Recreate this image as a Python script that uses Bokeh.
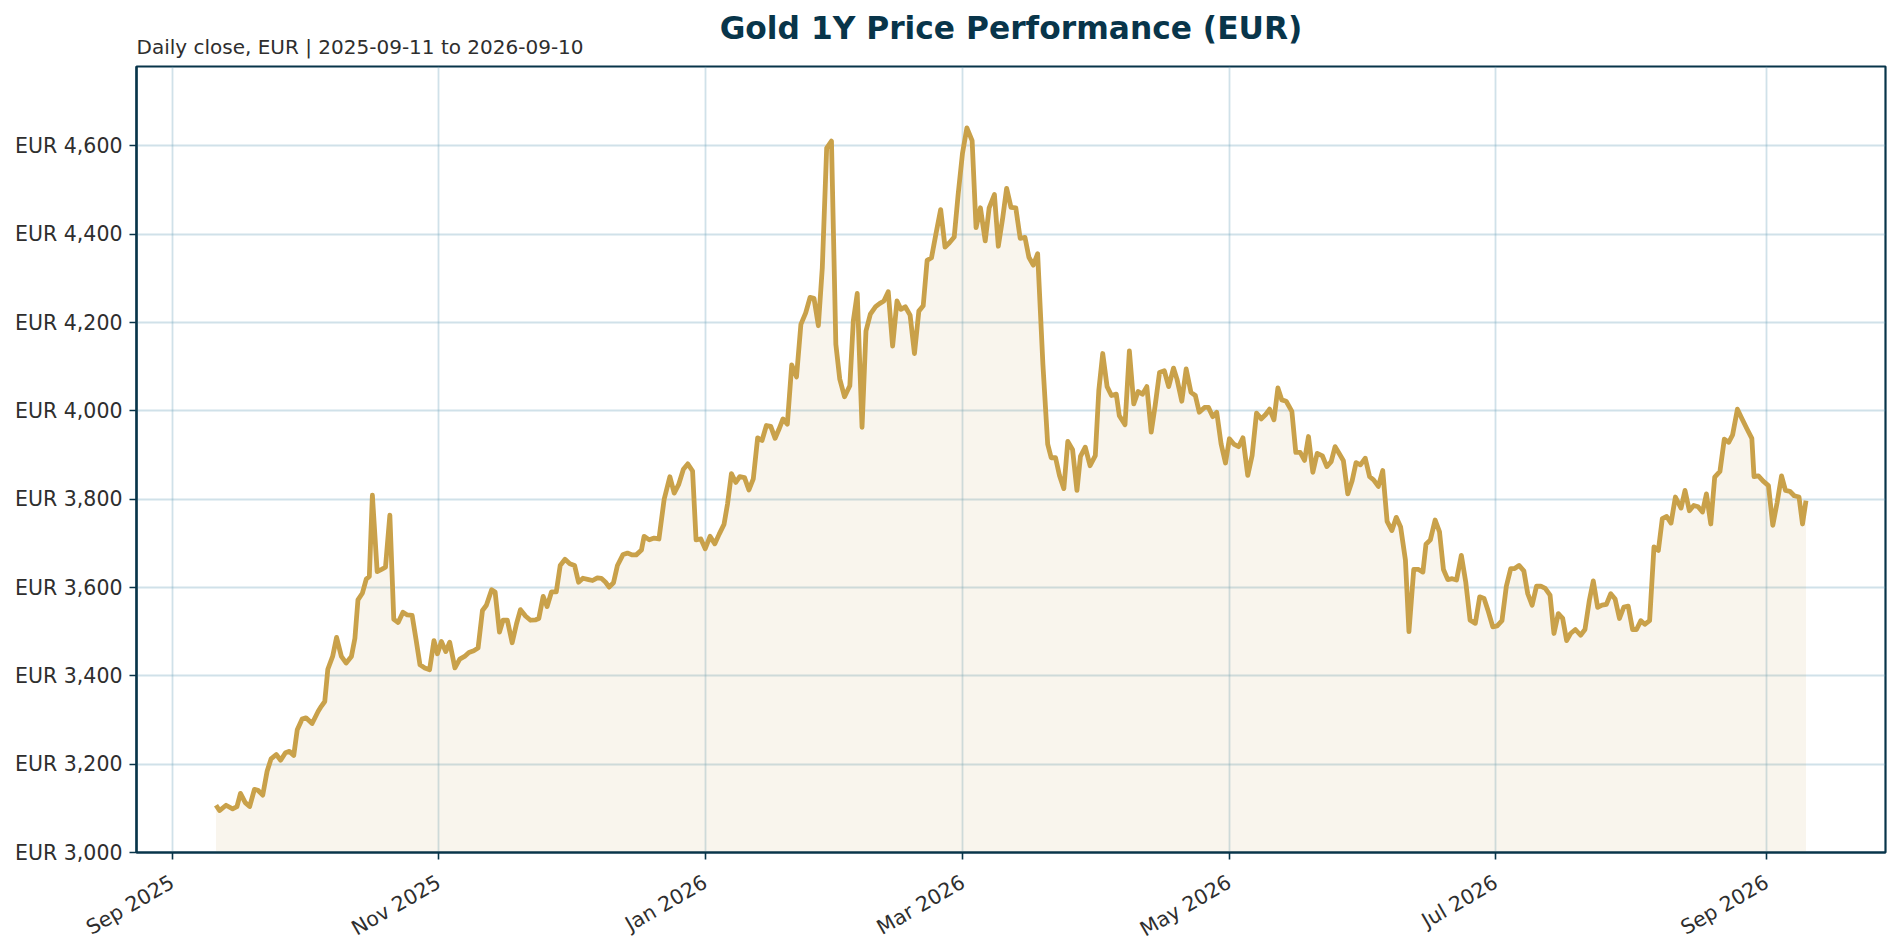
import pandas as pd
from bokeh.plotting import figure
from bokeh.models import Range1d, FixedTicker, DatetimeTickFormatter, Title, ColumnDataSource
from bokeh.embed import file_html
from bokeh.resources import INLINE

# ---------------- data ----------------
base_date = "2025-09-01"
day_offsets = [
    10.0, 10.8, 12.3, 13.8, 14.8, 15.6, 16.7, 17.7, 18.8, 19.6, 20.7, 21.7, 22.6, 23.8, 24.8,
    25.9, 26.8, 27.8, 28.6, 29.7, 30.6, 32.0, 33.4, 34.1, 34.9, 35.6, 36.7, 37.6, 38.7, 39.8,
    41.0, 41.8, 42.5, 43.5, 44.4, 45.1, 45.8, 46.9, 47.9, 48.8, 49.8, 50.7, 51.7, 52.8, 53.8,
    54.9, 55.8, 56.7, 57.8, 58.9, 59.9, 60.7, 61.6, 62.6, 63.5, 64.7, 65.8, 66.9, 67.9, 69.0,
    70.0, 71.0, 71.9, 73.1, 73.9, 74.9, 75.7, 76.7, 77.8, 78.8, 79.7, 80.9, 82.0, 83.2, 83.9,
    84.9, 85.8, 86.8, 87.9, 88.8, 89.9, 91.0, 92.1, 93.0, 94.0, 95.3, 96.2, 97.3, 98.2, 99.2,
    100.0, 101.0, 101.9, 103.2, 104.2, 105.3, 106.2, 107.4, 108.0, 109.2, 110.3, 111.4, 112.6,
    113.9, 114.9, 115.9, 117.0, 118.0, 119.1, 119.9, 121.0, 122.0, 123.1, 124.2, 125.2, 126.3,
    127.1, 128.0, 129.0, 129.9, 131.0, 132.0, 133.0, 134.0, 135.0, 136.0, 137.0, 138.0, 138.9,
    139.8, 140.8, 141.8, 142.9, 143.9, 145.0, 146.0, 146.9, 147.9, 148.8, 149.8, 150.9, 151.9,
    152.8, 153.9, 155.1, 155.9, 156.8, 157.9, 158.8, 159.8, 161.0, 161.9, 162.9, 163.9, 164.9,
    165.9, 166.8, 167.8, 168.9, 169.9, 170.9, 171.9, 172.8, 173.8, 174.8, 175.9, 176.9, 177.9,
    179.0, 179.9, 180.9, 181.9, 183.1, 184.0, 185.0, 186.1, 187.0, 188.2, 189.1, 190.1, 191.0,
    192.0, 193.1, 194.1, 195.2, 196.1, 197.1, 198.1, 199.3, 200.4, 201.2, 202.2, 203.1, 204.1,
    205.0, 206.1, 207.1, 207.9, 209.0, 210.1, 211.3, 212.1, 213.0, 214.0, 215.0, 216.1, 216.8,
    218.1, 219.1, 220.1, 221.1, 222.1, 223.1, 224.1, 225.0, 226.0, 227.1, 228.1, 229.2, 230.0,
    231.1, 232.1, 233.2, 234.2, 235.1, 236.3, 237.2, 238.2, 239.1, 240.1, 241.1, 242.0, 243.0,
    244.1, 245.1, 246.2, 247.2, 248.2, 249.3, 250.3, 251.2, 252.2, 253.1, 254.0, 255.0, 256.3,
    257.2, 258.2, 259.2, 260.1, 261.1, 262.1, 263.3, 264.3, 265.3, 266.2, 267.1, 268.1, 269.1,
    270.1, 271.0, 272.0, 273.1, 274.1, 275.0, 276.1, 277.1, 278.1, 279.2, 280.2, 281.2, 282.3,
    283.1, 284.2, 285.3, 286.3, 287.0, 288.0, 289.1, 290.1, 291.0, 292.0, 293.0, 294.0, 295.1,
    296.1, 297.1, 298.3, 299.3, 300.3, 301.3, 302.3, 303.3, 304.4, 305.4, 306.4, 307.3, 308.3,
    309.4, 310.3, 311.3, 312.3, 313.3, 314.3, 315.4, 316.3, 317.3, 318.3, 319.2, 320.1, 321.2,
    322.4, 323.4, 324.4, 325.3, 326.3, 327.3, 328.3, 329.3, 330.3, 331.3, 332.3, 333.3, 334.3,
    335.2, 336.2, 337.1, 338.2, 339.2, 340.2, 341.1, 342.1, 343.1, 344.1, 345.4, 346.3, 347.3,
    348.3, 349.3, 350.3, 351.2, 352.2, 353.1, 354.3, 355.3, 356.3, 357.2, 358.3, 359.4, 360.5,
    361.6, 362.1, 363.1, 364.2, 365.4, 366.4, 367.4, 368.4, 369.3, 370.3, 371.3, 372.4, 373.2,
    374.0,
]
prices = [
    3107, 3095, 3107, 3099, 3104, 3134, 3113, 3104, 3143, 3141, 3130, 3184, 3212, 3222, 3209,
    3226, 3229, 3220, 3278, 3302, 3305, 3292, 3320, 3331, 3342, 3415, 3444, 3487, 3444, 3429,
    3444, 3485, 3572, 3587, 3619, 3625, 3809, 3636, 3641, 3646, 3764, 3528, 3521, 3544, 3538,
    3537, 3482, 3425, 3418, 3414, 3480, 3450, 3478, 3455, 3476, 3418, 3438, 3444, 3453, 3457,
    3463, 3548, 3560, 3595, 3590, 3499, 3526, 3526, 3475, 3518, 3550, 3535, 3526, 3527, 3530,
    3580, 3557, 3590, 3590, 3650, 3664, 3654, 3650, 3612, 3621, 3618, 3616, 3622, 3621, 3612,
    3601, 3611, 3650, 3675, 3678, 3674, 3674, 3685, 3716, 3708, 3712, 3710, 3800,
    3851, 3814, 3833, 3868, 3880, 3864, 3708, 3710, 3688, 3716, 3699, 3721, 3743,
    3789, 3858, 3838, 3851, 3849, 3821, 3846, 3939, 3933, 3967, 3965, 3938, 3959,
    3982, 3970, 4104, 4077, 4196, 4222, 4257, 4255, 4193, 4324, 4595, 4611, 4151,
    4072, 4032, 4057, 4204, 4266, 3963, 4181, 4219, 4236, 4243, 4249, 4270, 4147,
    4249, 4230, 4236, 4217, 4130, 4226, 4238, 4341, 4347, 4400, 4456, 4371, 4381,
    4394, 4490, 4584, 4641, 4612, 4415, 4460, 4385, 4460, 4490, 4373, 4437, 4504,
    4461, 4460, 4391, 4393, 4348, 4330, 4356, 4106, 3925, 3894, 3894, 3854, 3824,
    3931, 3912, 3820, 3897, 3918, 3876, 3899, 4046, 4130, 4055, 4035, 4038, 3989,
    3969, 4136, 4016, 4044, 4038, 4055, 3952, 4012, 4087, 4091, 4055, 4097, 4072,
    4022, 4095, 4042, 4035, 3997, 4008, 4008, 3987, 3997, 3925, 3882, 3937, 3925,
    3919, 3939, 3854, 3899, 3995, 3982, 3992, 4004, 3980, 4052, 4025, 4022, 3999,
    3906, 3906, 3888, 3942, 3861, 3904, 3898, 3874, 3885, 3919, 3904, 3887, 3812,
    3842, 3883, 3878, 3893, 3851, 3844, 3829, 3865, 3750, 3729, 3759, 3737, 3662,
    3500, 3641, 3641, 3635, 3698, 3708, 3753, 3726, 3641, 3618, 3620, 3617, 3673,
    3613, 3526, 3519, 3579, 3575, 3545, 3511, 3513, 3525, 3603, 3643, 3643, 3650,
    3638, 3586, 3560, 3603, 3603, 3598, 3583, 3496, 3541, 3530, 3480, 3496, 3505,
    3492, 3505, 3571, 3615, 3555, 3560, 3562, 3586, 3574, 3530, 3556, 3558, 3505,
    3505, 3525, 3517, 3525, 3692, 3684, 3756, 3761, 3746, 3805, 3780, 3820, 3774,
    3786, 3783, 3771, 3812, 3744, 3850, 3863, 3936, 3929, 3946, 4004, 3981, 3959,
    3938, 3851, 3853, 3841, 3831, 3741, 3793, 3853, 3820, 3818, 3808, 3805, 3744,
    3797,
]
y_tick_values = [3000, 3200, 3400, 3600, 3800, 4000, 4200, 4400, 4600]
y_tick_labels = ["EUR 3,000", "EUR 3,200", "EUR 3,400", "EUR 3,600", "EUR 3,800",
                 "EUR 4,000", "EUR 4,200", "EUR 4,400", "EUR 4,600"]
x_tick_dates = ["2025-09-01", "2025-11-01", "2026-01-01", "2026-03-01",
                "2026-05-01", "2026-07-01", "2026-09-01"]
title_text = "Gold 1Y Price Performance (EUR)"
subtitle_text = "Daily close, EUR | 2025-09-11 to 2026-09-10"
y_floor = 3000
y_top = 4780

# ---------------- styling ----------------
NAVY = "#08354A"
GOLD = "#C9A14A"
GRID = "#6FA3BD"
TEXT = "#2E2E2E"
FONT = "DejaVu Sans"

dates = pd.Timestamp(base_date) + pd.to_timedelta(day_offsets, unit="D")
src = ColumnDataSource(dict(date=dates, price=prices, floor=[y_floor] * len(prices)))

margin = (dates[-1] - dates[0]) * 0.05
x_range = Range1d(dates[0] - margin, dates[-1] + margin)
y_range = Range1d(y_floor, y_top)

p = figure(frame_width=1749, frame_height=786, x_axis_type="datetime",
           x_range=x_range, y_range=y_range,
           output_backend="svg", toolbar_location=None, title=None,
           min_border_left=136, min_border_right=3, min_border_bottom=60, min_border_top=0)

p.varea(x="date", y1="floor", y2="price", source=src, fill_color=GOLD, fill_alpha=0.1)
p.line(x="date", y="price", source=src, line_color=GOLD, line_width=4.8, line_join="round")

# stacked header panels (innermost first): subtitle, title, top spacer
sub = Title(text=subtitle_text, align="left", vertical_align="top", text_font=FONT,
            text_font_size="20px", text_font_style="normal", text_color=TEXT, standoff=11)
p.add_layout(sub, "above")
ttl = Title(text=title_text, align="center", vertical_align="bottom", text_font=FONT,
            text_font_size="31.3px", text_font_style="bold", text_color=NAVY, standoff=-33)
p.add_layout(ttl, "above")
spacer = Title(text=" ", text_font=FONT, text_font_size="10px", standoff=11)
p.add_layout(spacer, "above")

p.outline_line_color = NAVY
p.outline_line_width = 2.2
p.background_fill_color = "white"
p.border_fill_color = "white"

xt = [pd.Timestamp(d).value // 10**6 for d in x_tick_dates]
p.xaxis.ticker = FixedTicker(ticks=xt)
fmt = "%b %Y"
p.xaxis.formatter = DatetimeTickFormatter(years=fmt, months=fmt, days=fmt, hours=fmt,
                                          minutes=fmt, seconds=fmt, milliseconds=fmt,
                                          microseconds=fmt)
p.xaxis.major_label_orientation = 0.5236
p.yaxis.ticker = FixedTicker(ticks=y_tick_values)
p.yaxis.major_label_overrides = {v: s for v, s in zip(y_tick_values, y_tick_labels)}

for ax in (p.xaxis, p.yaxis):
    ax.axis_line_color = NAVY
    ax.axis_line_width = 2.2
    ax.major_tick_line_color = NAVY
    ax.major_tick_line_width = 1.6
    ax.major_tick_out = 7
    ax.major_tick_in = 0
    ax.minor_tick_line_color = None
    ax.major_label_text_font = FONT
    ax.major_label_text_font_size = "20.5px"
    ax.major_label_text_color = TEXT
p.yaxis.major_label_standoff = 7
p.xaxis.major_label_standoff = 21

p.grid.grid_line_color = GRID
p.grid.grid_line_width = 1.8
p.grid.grid_line_alpha = 0.33

open("out.html", "w").write(file_html(p, INLINE))
